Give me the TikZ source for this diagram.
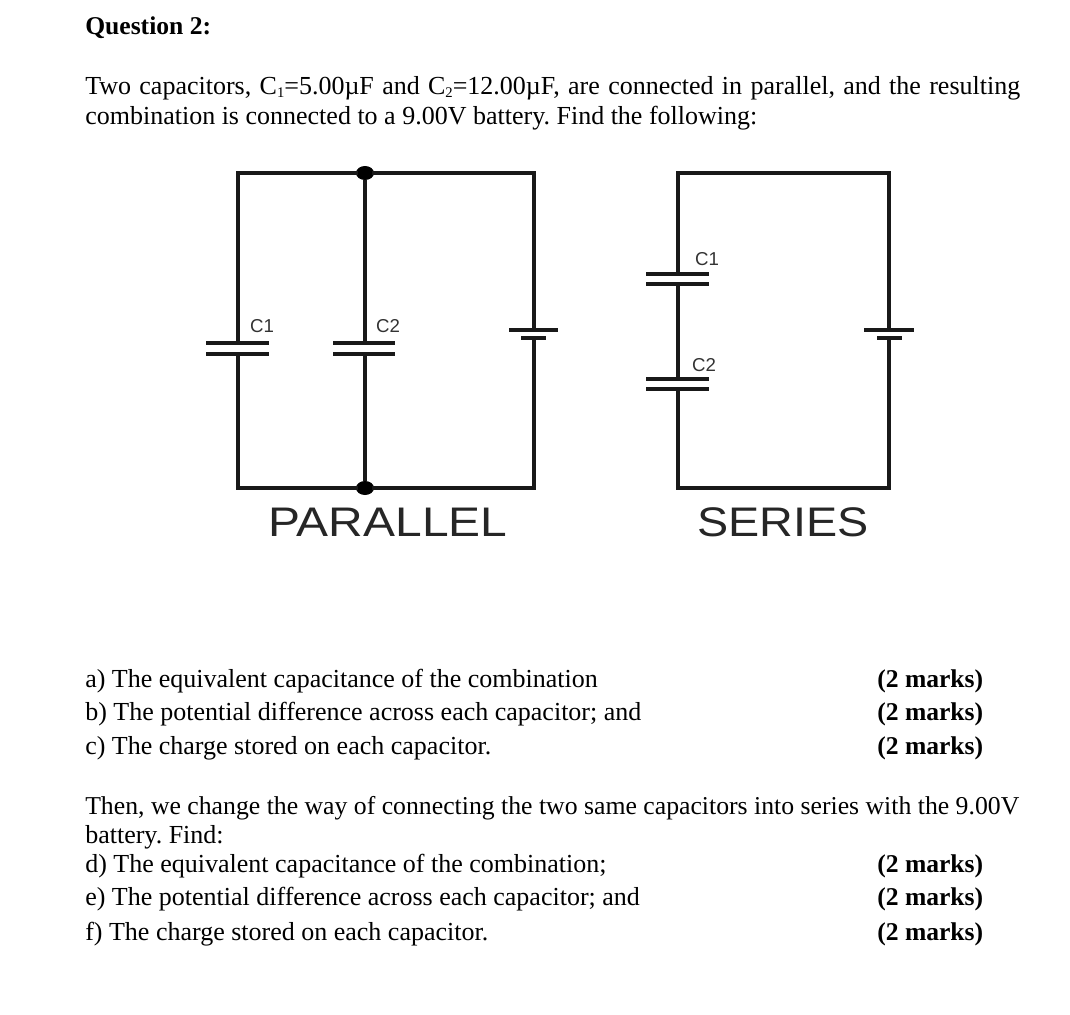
\documentclass[tikz,border=0pt]{standalone}
\usepackage{fontspec}
\setmainfont{Liberation Serif}
\setsansfont{Liberation Sans}
\usepackage{tikz}
\usetikzlibrary{positioning,calc,shapes.geometric}
\newcommand{\subnum}[1]{\raisebox{-0.12em}{\fontsize{11}{11}\selectfont #1}}
\frenchspacing

\begin{document}
\begin{tikzpicture}[
    x=0.75pt, y=-0.75pt,
    wire/.style={draw, line width=2.8pt, black!90},
    plate/.style={draw, line width=2.4pt, black!90},
    junction/.style={ellipse, fill=black, inner sep=0pt, minimum width=13.5pt, minimum height=10.5pt},
    txt/.style={anchor=base west, inner sep=0pt, font=\fontsize{19.5}{23}\selectfont, text=black},
    marks/.style={anchor=base west, inner sep=0pt, font=\fontsize{19.2}{23}\selectfont\bfseries, text=black},
    complabel/.style={anchor=center, inner sep=0pt, font=\sffamily\fontsize{14}{16}\selectfont, text=black!80},
    title/.style={anchor=center, inner sep=0pt, font=\sffamily\fontsize{31}{36}\selectfont, text=black!85}
]
\useasboundingbox (0,0) rectangle (1070,1014);

% ========== TEXT: Question ==========
\node[marks] (head) at (85,34) {Question 2:};
\node[txt] (introa) at (85,94) {\makebox[701.25pt][s]{Two capacitors, C\subnum{1}=5.00µF and C\subnum{2}=12.00µF, are connected in parallel, and the resulting}};
\node[txt] (introb) at (85,124) {combination is connected to a 9.00V battery. Find the following:};

% ========== PARALLEL circuit ==========
\coordinate (ptl) at (238,173);
\coordinate (ptr) at (534,173);
\coordinate (pbl) at (238,488);
\coordinate (pbr) at (534,488);
\node[junction] (ptop) at (365,173) {};
\node[junction] (pbot) at (365,488) {};

% C1 plates
\coordinate (pca) at (238,343);
\coordinate (pcb) at (238,354);
\draw[plate] ($(pca)+(-32,0)$) -- ($(pca)+(31,0)$);
\draw[plate] ($(pcb)+(-32,0)$) -- ($(pcb)+(31,0)$);
\node[complabel] (plc) at (262,326) {C1};

% C2 plates
\coordinate (pda) at (365,343);
\coordinate (pdb) at (365,354);
\draw[plate] ($(pda)+(-32,0)$) -- ($(pda)+(30,0)$);
\draw[plate] ($(pdb)+(-32,0)$) -- ($(pdb)+(30,0)$);
\node[complabel] (pld) at (388,326) {C2};

% Battery
\coordinate (pba) at (534,330);
\coordinate (pbb) at (534,338);
\draw[plate] ($(pba)+(-25,0)$) -- ($(pba)+(24,0)$);
\draw[plate, line width=2.8pt] ($(pbb)+(-13,0)$) -- ($(pbb)+(12,0)$);

% Wires
\draw[wire, line cap=rect] (pca) -- (ptl) -- (ptop) -- (ptr) -- (pba);
\draw[wire, line cap=rect] (pcb) -- (pbl) -- (pbot) -- (pbr) -- (pbb);
\draw[wire] (ptop) -- (pda);
\draw[wire] (pdb) -- (pbot);

\node[title] (ptitle) at (388,522.5) {\scalebox{1.16}[1]{PARALLEL}};

% ========== SERIES circuit ==========
\coordinate (stl) at (678,173);
\coordinate (str) at (889,173);
\coordinate (sbl) at (678,488);
\coordinate (sbr) at (889,488);

% C1 plates
\coordinate (sca) at (678,274);
\coordinate (scb) at (678,284);
\draw[plate] ($(sca)+(-32,0)$) -- ($(sca)+(31,0)$);
\draw[plate] ($(scb)+(-32,0)$) -- ($(scb)+(31,0)$);
\node[complabel] (slc) at (707,259) {C1};

% C2 plates
\coordinate (sda) at (678,379);
\coordinate (sdb) at (678,389);
\draw[plate] ($(sda)+(-32,0)$) -- ($(sda)+(31,0)$);
\draw[plate] ($(sdb)+(-32,0)$) -- ($(sdb)+(31,0)$);
\node[complabel] (sld) at (704,365) {C2};

% Battery
\coordinate (sba) at (889,330);
\coordinate (sbb) at (889,338);
\draw[plate] ($(sba)+(-25,0)$) -- ($(sba)+(25,0)$);
\draw[plate, line width=2.8pt] ($(sbb)+(-12,0)$) -- ($(sbb)+(13,0)$);

% Wires
\draw[wire, line cap=rect] (sca) -- (stl) -- (str) -- (sba);
\draw[wire] (scb) -- (sda);
\draw[wire, line cap=rect] (sdb) -- (sbl) -- (sbr) -- (sbb);

\node[title] (stitle) at (783,522.5) {\scalebox{1.13}[1]{SERIES}};

% ========== TEXT: First questions ==========
\node[txt] (qa) at (85,687) {a) The equivalent capacitance of the combination};
\node[txt] (qb) at (85,720) {b) The potential difference across each capacitor; and};
\node[txt] (qc) at (85,754) {c) The charge stored on each capacitor.};
\node[marks] (ma) at (877,687) {(2 marks)};
\node[marks] (mb) at (877,720) {(2 marks)};
\node[marks] (mc) at (877,754) {(2 marks)};

% ========== TEXT: Second questions ==========
\node[txt, font=\fontsize{19.3}{23}\selectfont] (thena) at (85,814) {Then, we change the way of connecting the two same capacitors into series with the 9.00V};
\node[txt] (thenb) at (85,843) {battery. Find:};
\node[txt] (qd) at (85,872) {d) The equivalent capacitance of the combination;};
\node[txt] (qe) at (85,905) {e) The potential difference across each capacitor; and};
\node[txt] (qf) at (85,940) {f) The charge stored on each capacitor.};
\node[marks] (md) at (877,872) {(2 marks)};
\node[marks] (me) at (877,905) {(2 marks)};
\node[marks] (mf) at (877,940) {(2 marks)};

\end{tikzpicture}
\end{document}
